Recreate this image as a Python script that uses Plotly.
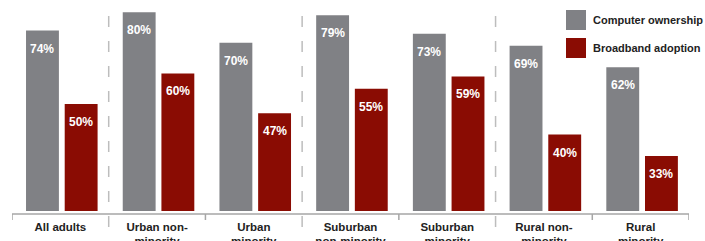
import plotly.graph_objects as go

categories = ["All adults", "Urban non-<br>minority", "Urban<br>minority",
              "Suburban<br>non-minority", "Suburban<br>minority",
              "Rural non-<br>minority", "Rural<br>minority"]
computer_ownership = [74, 80, 70, 79, 73, 69, 62]
broadband_adoption = [50, 60, 47, 55, 59, 40, 33]
series_names = ["Computer ownership", "Broadband adoption"]
colors = ["#808185", "#8A0C03"]

W, H = 705, 241
L, R, T, B = 12, 16, 0, 30
PW, PH = W - L - R, H - T - B

def px_x(p):
    return (p - L) / PW

def px_y(p):
    return (H - B - p) / PH

xs = list(range(len(categories)))
bar_w = 0.34
offsets = [-0.355, 0.045]
series = [computer_ownership, broadband_adoption]

fig = go.Figure()
for name, vals, col, off in zip(series_names, series, colors, offsets):
    fig.add_trace(go.Bar(
        x=xs, y=vals, name=name, marker=dict(color=col, line=dict(width=0)),
        width=bar_w, offset=off, showlegend=False, hoverinfo="skip"))

annotations = []
for vals, off in zip(series, offsets):
    for i, v in enumerate(vals):
        annotations.append(dict(
            x=i + off + bar_w / 2, y=v, xref="x", yref="y", text=f"{v}%",
            showarrow=False, yanchor="top", yshift=-9,
            font=dict(family="Liberation Sans, Arial", size=12, color="white", weight="bold")))

shapes = []
# axis line
shapes.append(dict(type="line", xref="paper", yref="paper", x0=0, x1=1,
                   y0=px_y(214), y1=px_y(214), line=dict(color="#a6a6a6", width=1.5)))
# end / interior ticks
for xv in [-0.5, 1.5, 3.5, 5.5, 6.5]:
    shapes.append(dict(type="line", xref="x", yref="paper", x0=xv, x1=xv,
                       y0=px_y(214), y1=px_y(220), line=dict(color="#a6a6a6", width=1.5)))
# dashed separators
for xv in [0.5, 2.5, 4.5]:
    shapes.append(dict(type="line", xref="x", yref="paper", x0=xv, x1=xv,
                       y0=px_y(16), y1=px_y(228),
                       line=dict(color="#bdbdbd", width=1.5, dash="11px,14px")))
# legend
for k, (name, col) in enumerate(zip(series_names, colors)):
    top = 10 + 28 * k
    shapes.append(dict(type="rect", xref="paper", yref="paper",
                       x0=px_x(566), x1=px_x(586), y0=px_y(top), y1=px_y(top + 20),
                       fillcolor=col, line=dict(width=0)))
    annotations.append(dict(x=px_x(591), y=px_y(top + 10), xref="paper", yref="paper",
                            text=name, showarrow=False, xanchor="left", yanchor="middle",
                            font=dict(family="Liberation Sans, Arial", size=11,
                                      color="#222222", weight="bold")))

fig.update_layout(
    width=W, height=H, margin=dict(l=L, r=R, t=T, b=B, autoexpand=False),
    plot_bgcolor="white", paper_bgcolor="white",
    barmode="overlay",
    xaxis=dict(range=[-0.5, 6.5], tickvals=xs, ticktext=categories, showgrid=False,
               zeroline=False, showline=False, ticks="", ticklabelstandoff=7,
               automargin=False,
               tickfont=dict(family="Liberation Sans, Arial", size=11.5, color="#222222",
                             weight="bold")),
    yaxis=dict(range=[15, 84], visible=False, showgrid=False, zeroline=False,
               automargin=False),
    shapes=shapes, annotations=annotations,
)
fig.write_html("out.html", config={"displayModeBar": False},
               post_script="document.body.style.margin='0';")
